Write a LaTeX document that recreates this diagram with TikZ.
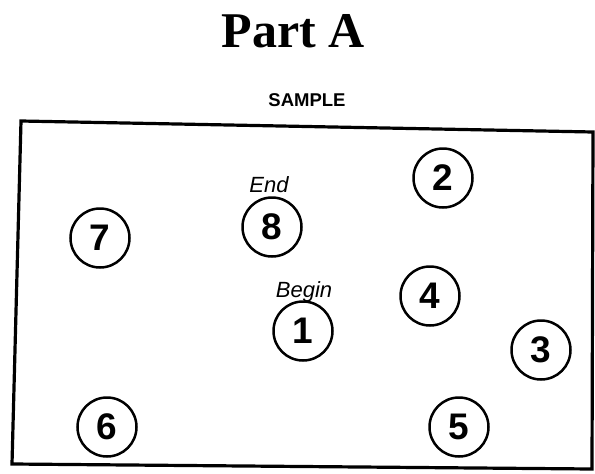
\documentclass[tikz,border=0pt]{standalone}
\usepackage{fontspec}
\setmainfont{Liberation Serif}
\setsansfont{Liberation Sans}
\usetikzlibrary{shapes}

\begin{document}
\begin{tikzpicture}[x=1pt,y=-1pt,
  station/.style={circle,draw,line width=2.5pt,minimum size=59pt,inner sep=0pt,
    font=\sffamily\bfseries\fontsize{37}{37}\selectfont},
  tag/.style={anchor=base,font=\sffamily\itshape\fontsize{22}{22}\selectfont}]

\useasboundingbox (0,0) rectangle (595,474);

% Title
\node[anchor=base,font=\bfseries\fontsize{50}{50}\selectfont] (title) at (293,47) {Part A};
\node[anchor=base,font=\sffamily\bfseries\fontsize{18.5}{18.5}\selectfont] (sample) at (307,106) {SAMPLE};

% Sample area
\draw[line width=3.2pt,line join=miter] (21,121) -- (593,132) -- (592,469) -- (12,464) -- cycle;

% Stations
\node[station] (s1) at (303,331) {1};
\node[station] (s2) at (443,178) {2};
\node[station] (s3) at (541,350) {3};
\node[station] (s4) at (430,296) {4};
\node[station] (s5) at (459,427) {5};
\node[station] (s6) at (107,427) {6};
\node[station] (s7) at (100,238) {7};
\node[station] (s8) at (272,227) {8};

% Start and finish
\node[tag] (begin) at (304,297) {Begin};
\node[tag] (end) at (269,192) {End};

\end{tikzpicture}
\end{document}
